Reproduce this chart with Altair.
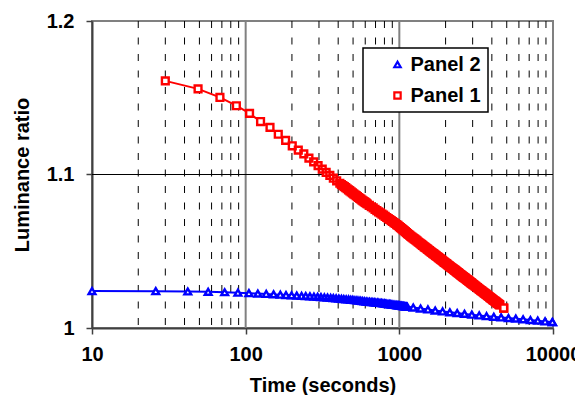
import altair as alt
import pandas as pd

# ---- data ----
panel1_time = [30, 49, 68, 87, 106, 125, 144, 163, 182, 201, 220, 239, 258, 277, 296, 315,
               334, 353, 372, 391, 410, 429, 448, 467, 486, 505, 524, 543, 562, 581, 600,
               619, 638, 657, 676, 695, 714, 733, 752, 771, 790, 809, 828, 847, 866, 885,
               904, 923, 942, 961, 980, 999, 1018, 1037, 1056, 1075, 1094, 1113, 1132, 1151,
               1170, 1189, 1208, 1227, 1246, 1265, 1284, 1303, 1322, 1341, 1360, 1379, 1398,
               1417, 1436, 1455, 1474, 1493,
               1531, 1569, 1607, 1645, 1683, 1721, 1759, 1797, 1835, 1873, 1911, 1949, 1987,
               2025, 2063, 2101, 2139, 2177, 2215, 2253, 2291, 2329, 2367, 2405, 2443, 2481,
               2519, 2557, 2595, 2633, 2671, 2709, 2747, 2785, 2823, 2861, 2899, 2937, 2975,
               3032, 3108, 3184, 3260, 3336, 3412, 3488, 3564, 3640, 3716, 3792, 3868, 3944,
               4020, 4096, 4172, 4248, 4324, 4400, 4476, 4780]
panel1_ratio = [1.1610, 1.1558, 1.1502, 1.1448, 1.1398, 1.1345, 1.1307, 1.1262, 1.1222, 1.1187,
                1.1159, 1.1134, 1.1107, 1.1082, 1.1058, 1.1035, 1.1014, 1.0994, 1.0976, 1.0959,
                1.0943, 1.0928, 1.0914, 1.0900, 1.0887, 1.0874, 1.0862, 1.0850, 1.0839, 1.0828,
                1.0818, 1.0808, 1.0799, 1.0790, 1.0782, 1.0773, 1.0765, 1.0757, 1.0750, 1.0742,
                1.0735, 1.0727, 1.0720, 1.0713, 1.0707, 1.0700, 1.0694, 1.0687, 1.0681, 1.0674,
                1.0668, 1.0661, 1.0654, 1.0647, 1.0641, 1.0634, 1.0628, 1.0621, 1.0615, 1.0609,
                1.0603, 1.0597, 1.0592, 1.0587, 1.0582, 1.0577, 1.0572, 1.0567, 1.0562, 1.0557,
                1.0552, 1.0548, 1.0543, 1.0538, 1.0534, 1.0529, 1.0525, 1.0521,
                1.0512, 1.0504, 1.0496, 1.0488, 1.0481, 1.0473, 1.0466, 1.0459, 1.0452, 1.0445,
                1.0438, 1.0431, 1.0425, 1.0419, 1.0412, 1.0406, 1.0400, 1.0394, 1.0388, 1.0383,
                1.0377, 1.0372, 1.0366, 1.0361, 1.0356, 1.0350, 1.0345, 1.0340, 1.0335, 1.0330,
                1.0326, 1.0321, 1.0316, 1.0312, 1.0307, 1.0303, 1.0298, 1.0294, 1.0289,
                1.0283, 1.0275, 1.0267, 1.0259, 1.0251, 1.0243, 1.0236, 1.0229, 1.0222, 1.0215,
                1.0208, 1.0201, 1.0195, 1.0188, 1.0182, 1.0176, 1.0170, 1.0164, 1.0158, 1.0152,
                1.0130]
# further Panel 1 readings in the dense part of the curve
panel1_time_b = [419.5, 438.5, 457.5, 476.5, 495.5, 514.5, 533.5, 552.5, 571.5, 590.5, 609.5,
                 1512, 1550, 1588, 1626, 1664, 1702, 1740, 1778, 1816, 1854, 1892, 1930, 1968,
                 2006, 2044, 2082, 2120, 2158, 2196, 2234, 2272, 2310, 2348, 2386, 2424, 2462,
                 2500, 2538, 2576, 2614, 2652, 2690, 2728, 2766, 2804, 2842, 2880, 2918, 2956,
                 3004, 3070, 3146, 3222, 3298, 3374, 3450, 3526, 3602, 3678, 3754, 3830, 3906,
                 3982, 4058, 4134, 4210, 4286, 4362, 4438, 4514]
panel1_ratio_b = [1.0935, 1.0921, 1.0907, 1.0893, 1.0880, 1.0868, 1.0856, 1.0844, 1.0833,
                  1.0823, 1.0813,
                  1.0517, 1.0508, 1.0500, 1.0492, 1.0485, 1.0477, 1.0470, 1.0463, 1.0456, 1.0449,
                  1.0442, 1.0435, 1.0428, 1.0422, 1.0416, 1.0409, 1.0403, 1.0397, 1.0391, 1.0386,
                  1.0380, 1.0375, 1.0369, 1.0364, 1.0359, 1.0353, 1.0348, 1.0343, 1.0338, 1.0333,
                  1.0328, 1.0324, 1.0319, 1.0314, 1.0310, 1.0305, 1.0301, 1.0296, 1.0292, 1.0286,
                  1.0279, 1.0271, 1.0263, 1.0255, 1.0247, 1.0240, 1.0233, 1.0226, 1.0219, 1.0212,
                  1.0205, 1.0198, 1.0192, 1.0185, 1.0179, 1.0173, 1.0167, 1.0161, 1.0155, 1.0150]

panel2_time = [10, 26, 42, 57, 73, 89, 105, 120, 136, 152, 168, 183, 199, 215, 231, 246, 262,
               278, 294, 309, 325, 341, 357, 372, 388, 404, 420, 435, 451, 467, 483, 498, 514,
               530, 546, 561, 577, 593, 609, 624, 640, 656, 672, 687, 703, 719, 735, 750, 766,
               782, 798, 813, 829, 845, 861, 876, 892, 908, 924, 939, 955, 971, 987, 1002,
               1018, 1034, 1050, 1065, 1081, 1097, 1113, 1128,
               1232, 1375, 1534, 1712, 1911, 2132, 2380, 2656, 2964, 3308, 3691, 4120, 4597,
               5131, 5726, 6390, 7131, 7958, 8881, 9911]
panel2_ratio = [1.0241, 1.0240, 1.0238, 1.0236, 1.0233, 1.0230, 1.0227, 1.0224, 1.0222, 1.0219,
                1.0217, 1.0215, 1.0213, 1.0211, 1.0209, 1.0208, 1.0206, 1.0204, 1.0203, 1.0201,
                1.0199, 1.0198, 1.0196, 1.0195, 1.0193, 1.0192, 1.0190, 1.0189, 1.0187, 1.0186,
                1.0184, 1.0183, 1.0181, 1.0180, 1.0178, 1.0177, 1.0175, 1.0174, 1.0172, 1.0171,
                1.0170, 1.0169, 1.0168, 1.0167, 1.0166, 1.0165, 1.0164, 1.0163, 1.0162, 1.0161,
                1.0160, 1.0158, 1.0157, 1.0156, 1.0155, 1.0154, 1.0153, 1.0152, 1.0151, 1.0150,
                1.0149, 1.0148, 1.0147, 1.0146, 1.0145, 1.0144, 1.0143, 1.0142, 1.0141, 1.0140,
                1.0139, 1.0138,
                1.0133, 1.0127, 1.0121, 1.0114, 1.0108, 1.0102, 1.0097, 1.0092, 1.0087, 1.0082,
                1.0077, 1.0073, 1.0069, 1.0065, 1.0061, 1.0057, 1.0052, 1.0048, 1.0043, 1.0039]

series_names = ["Panel 2", "Panel 1"]
series_colors = ["#0000FF", "#FF0000"]
series_shapes = ["triangle-up", "square"]

x_ticks = [10, 100, 1000, 10000]
y_ticks = [1, 1.1, 1.2]
minor_x = [20, 30, 40, 50, 60, 70, 80, 90, 200, 300, 400, 500, 600, 700, 800, 900,
           2000, 3000, 4000, 5000, 6000, 7000, 8000, 9000]
major_x = [100, 1000]
major_y = [1.1]

FONT = "Liberation Sans"

p2 = pd.DataFrame({"t": panel2_time, "v": panel2_ratio, "series": "Panel 2"})
p1 = pd.concat([pd.DataFrame({"t": panel1_time, "v": panel1_ratio}),
                pd.DataFrame({"t": panel1_time_b, "v": panel1_ratio_b})])
p1["series"] = "Panel 1"
df = pd.concat([p2.sort_values("t"), p1.sort_values("t")], ignore_index=True)
df["z"] = range(len(df))

xscale = alt.Scale(type="log", domain=[10, 10000])
yscale = alt.Scale(domain=[1, 1.2])

x_enc = alt.X("t:Q", scale=xscale, title="Time (seconds)",
              axis=alt.Axis(values=x_ticks, format="d", grid=False, labelFlush=False))
y_enc = alt.Y("v:Q", scale=yscale, title="Luminance ratio",
              axis=alt.Axis(values=y_ticks, format="~g", grid=False, labelFlush=False))

legend = alt.Legend(title=None, orient="none", legendX=271, legendY=27,
                    fillColor="white", strokeColor="black", padding=6.5,
                    labelFontSize=20, labelFont=FONT, labelFontWeight="bold",
                    labelColor="black", symbolSize=40, symbolStrokeWidth=2.2,
                    symbolFillColor="white", rowPadding=11, symbolOffset=18,
                    labelOffset=3, labelExpr="datum.label + '     '")

color_enc = alt.Color("series:N", scale=alt.Scale(domain=series_names, range=series_colors),
                      legend=legend)
shape_enc = alt.Shape("series:N", scale=alt.Scale(domain=series_names, range=series_shapes),
                      legend=legend)

minor_rules = alt.Chart(pd.DataFrame({"t": minor_x})).mark_rule(
    color="black", strokeWidth=1, strokeDash=[7, 9.5]).encode(x=alt.X("t:Q", scale=xscale))
major_rules = alt.Chart(pd.DataFrame({"t": major_x})).mark_rule(
    color="#808080", strokeWidth=2).encode(x=alt.X("t:Q", scale=xscale))
hrules = alt.Chart(pd.DataFrame({"v": major_y})).mark_rule(
    color="black", strokeWidth=1).encode(y=alt.Y("v:Q", scale=yscale))

base = alt.Chart(df)
lines = base.mark_line(strokeWidth=2).encode(
    x=x_enc, y=y_enc, color=color_enc, detail="series:N", order="t:Q")
# white marker interiors first, then the coloured marker outlines on top
marker_fill = base.mark_point(size=46, filled=True, color="white", strokeWidth=0,
                              opacity=1).encode(
    x=x_enc, y=y_enc, shape=shape_enc, order="z:Q")
marker_edge = base.mark_point(size=46, strokeWidth=2.4, fill="transparent", opacity=1).encode(
    x=x_enc, y=y_enc, color=color_enc, shape=shape_enc, order="z:Q")
# the final reading of each series is drawn last, whole (white inside)
marker_last = base.transform_window(
    rank="rank()", sort=[alt.SortField("t", order="descending")], groupby=["series"]
).transform_filter("datum.rank == 1").mark_point(
    size=46, strokeWidth=2.4, fill="white", opacity=1).encode(
    x=x_enc, y=y_enc, color=color_enc, shape=shape_enc)

chart = alt.layer(minor_rules, major_rules, hrules, lines, marker_fill, marker_edge,
                  marker_last).properties(
    width=461, height=307,
    autosize=alt.AutoSizeParams(type="none"),
    padding={"left": 84, "top": 13, "right": 22, "bottom": 67},
).configure_view(
    stroke="#808080", strokeWidth=2
).configure_axis(
    labelFont=FONT, labelFontSize=20, labelFontWeight="bold", labelColor="black",
    titleFont=FONT, titleFontSize=20, titleFontWeight="bold", titleColor="black",
    domainColor="#404040", domainWidth=2, tickColor="#404040", tickWidth=1.5, tickSize=6,
).configure_axisX(
    labelPadding=10, titlePadding=11
).configure_axisY(
    labelPadding=12, titlePadding=14
).configure_legend(
    strokeWidth=1.5
)

chart.save("out.html", embed_options={"renderer": "svg", "actions": False})
